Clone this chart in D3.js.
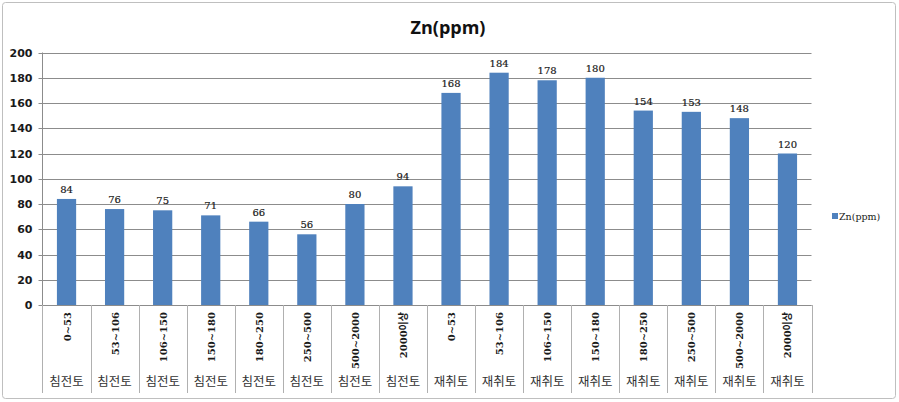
<!DOCTYPE html>
<html><head><meta charset="utf-8">
<script src="https://cdn.jsdelivr.net/npm/d3@7"></script>
<style>body{margin:0;background:#fff;}svg{display:block;}</style>
</head><body>
<svg id="c" width="899" height="402"></svg>
<script>
const sizeClasses = ["0~53","53~106","106~150","150~180","180~250","250~500","500~2000","2000이상"];
const groups = ["침전토","재취토"];
const zincValues = [84,76,75,71,66,56,80,94,168,184,178,180,154,153,148,120];
const yTicks = [0,20,40,60,80,100,120,140,160,180,200];
const seriesName = "Zn(ppm)";

const cats = [];
groups.forEach(g => sizeClasses.forEach(s => cats.push({g, s})));
const data = cats.map((c, i) => ({id: i, g: c.g, s: c.s, v: zincValues[i]}));

const svg = d3.select("#c");
const m = {left: 42.5, right: 811.5, top: 52.5, bottom: 305};

svg.append("rect").attr("x", 2.5).attr("y", 2.5).attr("width", 893).attr("height", 396)
  .attr("rx", 3).attr("fill", "#fff").attr("stroke", "#bfbfbf").attr("stroke-width", 1);

const x = d3.scaleBand().domain(data.map(d => d.id)).range([m.left, m.right]).paddingInner(0.6).paddingOuter(0.3);
const y = d3.scaleLinear().domain([0, 200]).range([m.bottom, m.top]);

// gridlines
svg.append("g").selectAll("line").data(yTicks).join("line")
  .attr("x1", m.left - 4).attr("x2", m.right)
  .attr("y1", d => Math.round(y(d)) + 0.5).attr("y2", d => Math.round(y(d)) + 0.5)
  .attr("stroke", "#8c8c8c").attr("stroke-width", 1);

// y axis labels
const yAxis = d3.axisLeft(y).tickValues(yTicks).tickSize(0).tickPadding(10);
const ya = svg.append("g").attr("transform", `translate(${m.left},0)`).call(yAxis);
ya.select(".domain").remove();
ya.selectAll("text").attr("font-family", "'DejaVu Sans', sans-serif").attr("font-weight", "bold")
  .attr("font-size", 11).attr("fill", "#1a1a1a");

// bars
svg.append("g").selectAll("rect").data(data).join("rect")
  .attr("x", d => x(d.id)).attr("width", x.bandwidth())
  .attr("y", d => y(d.v)).attr("height", d => y(0) - y(d.v))
  .attr("fill", "#4f81bd");

// data labels
svg.append("g").selectAll("text").data(data).join("text")
  .attr("x", d => x(d.id) + x.bandwidth() / 2).attr("y", d => y(d.v) - 6)
  .attr("text-anchor", "middle").attr("font-family", "'DejaVu Serif', serif")
  .attr("font-size", 10).attr("fill", "#1a1a1a").attr("stroke", "#1a1a1a").attr("stroke-width", 0.2)
  .text(d => d.v);

// axes lines
svg.append("line").attr("x1", m.left).attr("x2", m.left).attr("y1", m.top).attr("y2", m.bottom)
  .attr("stroke", "#8c8c8c");
svg.append("line").attr("x1", m.left).attr("x2", m.right).attr("y1", m.bottom + 0.5).attr("y2", m.bottom + 0.5)
  .attr("stroke", "#8c8c8c");

// category separators
const step = x.step();
const bounds = d3.range(data.length + 1).map(i => i === data.length ? m.right : x(i) - x.paddingOuter() * step);
svg.append("g").selectAll("line").data(bounds).join("line")
  .attr("x1", d => Math.round(d) + 0.5).attr("x2", d => Math.round(d) + 0.5)
  .attr("y1", m.bottom).attr("y2", 393)
  .attr("stroke", "#b0b0b0");

// size class labels (rotated)
svg.append("g").selectAll("text").data(data).join("text")
  .attr("transform", d => `translate(${x(d.id) + x.bandwidth() / 2 + 4},312) rotate(-90)`)
  .attr("text-anchor", "end")
  .attr("font-family", "'DejaVu Serif', 'Noto Sans CJK KR', serif").attr("font-weight", "bold")
  .attr("font-size", 10).attr("fill", "#1a1a1a").text(d => d.s);

// group labels
svg.append("g").selectAll("text").data(data).join("text")
  .attr("x", d => x(d.id) + x.bandwidth() / 2).attr("y", 386)
  .attr("text-anchor", "middle").attr("font-family", "'Noto Sans CJK KR', sans-serif")
  .attr("font-size", 12.5).attr("fill", "#333").text(d => d.g);

// title
svg.append("text").attr("x", 448).attr("y", 34).attr("text-anchor", "middle")
  .attr("font-family", "'Open Sans', 'Liberation Sans', sans-serif").attr("font-weight", "bold")
  .attr("font-size", 18).attr("fill", "#111").text(seriesName);

// legend
svg.append("rect").attr("x", 832).attr("y", 213).attr("width", 6).attr("height", 6).attr("fill", "#4f81bd");
svg.append("text").attr("x", 839).attr("y", 220).attr("font-family", "'DejaVu Serif', serif")
  .attr("font-size", 9.5).attr("fill", "#1a1a1a").text(seriesName);
</script>
</body></html>
